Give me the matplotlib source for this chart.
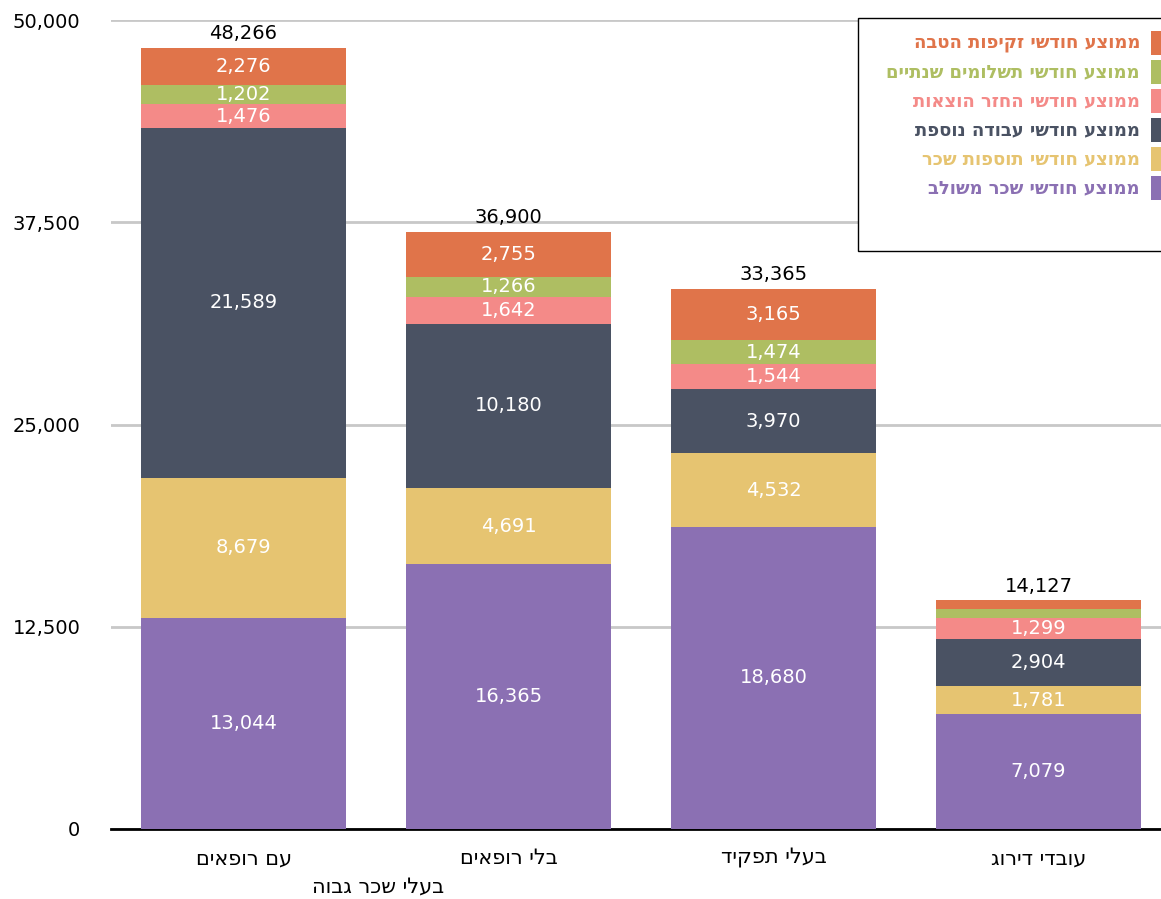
import matplotlib
matplotlib.use('Agg')
import matplotlib.pyplot as plt
from matplotlib.patches import Rectangle

plt.rcParams['font.family'] = ['DejaVu Sans']

# קטגוריות (כפי שמופיעות בתרשים)
categories = ['עם רופאים', 'בלי רופאים', 'בעלי תפקיד', 'עובדי דירוג']
first_label_line2 = 'בעלי שכר גבוה'
series_names = [
    'ממוצע חודשי שכר משולב',
    'ממוצע חודשי תוספות שכר',
    'ממוצע חודשי עבודה נוספת',
    'ממוצע חודשי החזר הוצאות',
    'ממוצע חודשי תשלומים שנתיים',
    'ממוצע חודשי זקיפות הטבה',
]
shacar_meshulav = [13044, 16365, 18680, 7079]
tosafot_sachar = [8679, 4691, 4532, 1781]
avoda_nosefet = [21589, 10180, 3970, 2904]
hechzer_hotzaot = [1476, 1642, 1544, 1299]
tashlumim_shnatiim = [1202, 1266, 1474, 520]
zkifot_hatava = [2276, 2755, 3165, 544]
totals = [48266, 36900, 33365, 14127]
yticks = [0, 12500, 25000, 37500, 50000]

series = [shacar_meshulav, tosafot_sachar, avoda_nosefet,
          hechzer_hotzaot, tashlumim_shnatiim, zkifot_hatava]
colors = ['#8B70B3', '#E6C471', '#4A5263', '#F48A88', '#AEBE62', '#E0744A']


def heb(s):
    # matplotlib אינו מטפל בכיווניות - הופכים את המחרוזת
    return s[::-1]


W, H = 1161, 899
fig = plt.figure(figsize=(W / 100, H / 100), dpi=100)
ax = fig.add_axes([111 / W, 70 / H, 1050 / W, 809 / H])

x = list(range(len(categories)))
bottoms = [0] * len(categories)
for vals, col in zip(series, colors):
    ax.bar(x, vals, width=0.774, bottom=bottoms, color=col, zorder=3)
    for i, v in enumerate(vals):
        # מקטעים קטנים מדי - בלי תווית
        if v > 800:
            ax.text(i, bottoms[i] + v / 2, f'{v:,}', ha='center', va='center',
                    color='white', fontsize=14, zorder=4)
    bottoms = [b + v for b, v in zip(bottoms, vals)]

for i, t in enumerate(totals):
    ax.text(i, bottoms[i] + 300, f'{t:,}', ha='center', va='bottom',
            color='black', fontsize=14, zorder=4)

ax.set_xlim(-0.5, 3.5 - 10 / 265)
ax.set_ylim(0, 50000)
ax.set_yticks(yticks)
ax.set_yticklabels([f'{v:,}' for v in yticks], fontsize=14)
ax.tick_params(axis='y', length=0, pad=22)
ax.yaxis.grid(True, color='#C8C8C8', linewidth=2, zorder=0)
ax.set_axisbelow(True)

ax.set_xticks(x)
ax.set_xticklabels([heb(c) for c in categories], fontsize=15)
ax.tick_params(axis='x', length=0, pad=14)
fig.text(378 / W, 1 - 887 / H, heb(first_label_line2), ha='center',
         va='center', fontsize=15)

for side in ['top', 'right', 'left']:
    ax.spines[side].set_visible(False)
ax.spines['bottom'].set_linewidth(2)
ax.spines['bottom'].set_color('black')

# מקרא ידני
fig.patches.append(Rectangle((858 / W, 1 - 251 / H), 320 / W, 233 / H,
                             transform=fig.transFigure, facecolor='white',
                             edgecolor='black', linewidth=1, zorder=5))
for k in range(len(series_names)):
    idx = len(series_names) - 1 - k
    yc = 1 - (43 + k * 29) / H
    fig.patches.append(Rectangle((1151 / W, yc - 12 / H), 12 / W, 24 / H,
                                 transform=fig.transFigure,
                                 facecolor=colors[idx], edgecolor='none',
                                 zorder=6))
    fig.text(1140 / W, yc, heb(series_names[idx]), ha='right', va='center',
             color=colors[idx], fontsize=13, fontweight='bold', zorder=7)

fig.savefig('out.png', dpi=100)
